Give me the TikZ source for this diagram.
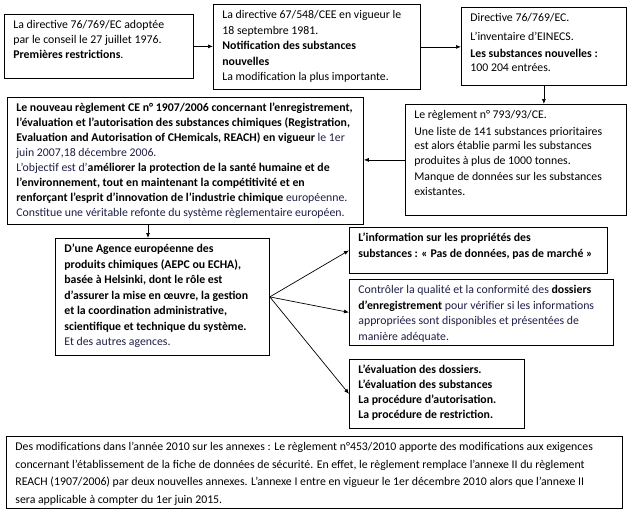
\documentclass[tikz,border=0pt]{standalone}
\usepackage{fontspec}
\setmainfont{Carlito}
\usetikzlibrary{arrows.meta}

\definecolor{bleutexte}{RGB}{30,30,70}
\newcommand{\contenu}[3]{\parbox[c][#2][t]{#1}{\raggedright #3}}
\newcommand{\reg}[1]{{\color{bleutexte}#1}}

\begin{document}
\begin{tikzpicture}[x=1pt, y=-1pt, line width=0.8pt,
  boite/.style={draw, anchor=north west, inner xsep=9pt, inner ysep=6pt,
    font=\fontsize{11.8}{15}\selectfont},
  fleche/.style={-{Latex[length=5pt,width=4pt]}, line width=0.7pt}]
\useasboundingbox (0,0) rectangle (627,517);

% historique des directives
\node[boite] (dir76) at (4,14) {\contenu{171pt}{52pt}{La directive 76/769/EC adoptée\\
  par le conseil le 27 juillet 1976.\\ \textbf{Premières restrictions}.}};
\node[boite] (dir67) at (213,4) {\contenu{189pt}{73pt}{\fontsize{11.8}{15.5}\selectfont
  La directive 67/548/CEE en vigueur le\\ 18 septembre 1981.\\ \textbf{Notification des substances\\ nouvelles}\\
  La modification la plus importante.}};
\node[boite] (einecs) at (461,7) {\contenu{147pt}{66pt}{\fontsize{11.8}{14}\selectfont
  Directive 76/769/EC.\\[5pt] L’inventaire d’EINECS.\\[3pt] \textbf{Les substances nouvelles :}\\ 100 204 entrées.}};
\node[boite] (reg793) at (405,104) {\contenu{203pt}{99pt}{\fontsize{11.8}{14.5}\selectfont
  Le règlement n° 793/93/CE.\\[2pt] Une liste de 141 substances prioritaires\\
  est alors établie parmi les substances\\ produites à plus de 1000 tonnes.\\[2pt]
  Manque de données sur les substances\\ existantes.}};

% le reglement REACH
\node[boite] (reach) at (7,97) {\contenu{338pt}{115pt}{\textbf{Le nouveau règlement CE n° 1907/2006 concernant l'enregistrement,\\
  l'évaluation et l'autorisation des substances chimiques (Registration,\\
  Evaluation and Autorisation of CHemicals, REACH) en vigueur} \reg{le 1er\\
  juin 2007,18 décembre 2006.}\\
  \reg{L’objectif est d'}\textbf{améliorer la protection de la santé humaine et de\\
  l'environnement, tout en maintenant la compétitivité et en\\
  renforçant l'esprit d'innovation de l'industrie chimique} \reg{européenne.}\\
  \reg{Constitue une véritable refonte du système règlementaire européen.}}};
\node[boite] (agence) at (55,238) {\contenu{196pt}{105pt}{\fontsize{11.8}{15.5}\selectfont
  \textbf{D’une Agence européenne des\\ produits chimiques (AEPC ou ECHA),\\ basée à Helsinki, dont le rôle est\\
  d'assurer la mise en œuvre, la gestion\\ et la coordination administrative,\\
  scientifique et technique du système.}\\ \reg{Et des autres agences.}}};

% missions de l'agence
\node[boite] (info) at (349,227) {\contenu{240pt}{34pt}{\fontsize{11.8}{16}\selectfont
  \textbf{L'information sur les propriétés des\\ substances : « Pas de données, pas de marché »}}};
\node[boite] (controle) at (349,279) {\contenu{246pt}{54pt}{\fontsize{11.8}{15.5}\selectfont
  \reg{Contrôler la qualité et la conformité des} \textbf{dossiers\\ d'enregistrement}
  \reg{pour vérifier si les informations\\ appropriées sont disponibles et présentées de\\ manière adéquate.}}};
\node[boite] (evaluation) at (349,359) {\contenu{157pt}{57pt}{\textbf{L'évaluation des dossiers.\\
  L'évaluation des substances\\ La procédure d'autorisation.\\ La procédure de restriction.}}};

% annexes 2010
\node[boite] (annexes) at (6,436) {\contenu{598pt}{60pt}{\fontsize{11.8}{17.5}\selectfont
  Des modifications dans l’année 2010 sur les annexes : Le règlement n°453/2010 apporte des modifications aux exigences\\
  concernant l’établissement de la fiche de données de sécurité. En effet, le règlement remplace l’annexe II du règlement\\
  REACH (1907/2006) par deux nouvelles annexes. L’annexe I entre en vigueur le 1er décembre 2010 alors que l’annexe II\\
  sera applicable à compter du 1er juin 2015.}};

% fleches
\draw[fleche] (dir76.east) -- (dir76.east -| dir67.west);
\draw[fleche] (dir67.east) -- (dir67.east -| einecs.west);
\draw[fleche] (einecs.south) -- (einecs.south |- reg793.north);
\draw[fleche] (reg793.west) -- (reg793.west -| reach.east);
\draw[fleche] ([xshift=141pt]reach.south west) -- ([xshift=93pt]agence.north west);
\draw[fleche] (agence.east) -- (info.west);
\draw[fleche] (agence.east) -- (controle.west);
\draw[fleche] (agence.east) -- (evaluation.west);
\end{tikzpicture}
\end{document}
